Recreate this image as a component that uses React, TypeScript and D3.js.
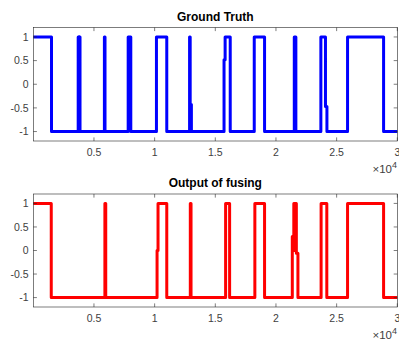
import React, { useEffect, useRef } from 'react';
import * as d3 from 'd3';

// change points: value holds from x until the next x
const truthX = [0, 1500, 3700, 3760, 3800, 3850, 5860, 5910, 7820, 8035, 10150, 11000, 12880, 12930, 13030, 15720, 15810, 16230, 18210, 19060, 21510, 21640, 23700, 24080, 24200, 25900, 28870, 30000];
const truthY = [1, -1, 1, -1, 1, -1, 1, -1, 1, -1, 1, -1, 1, -0.43, -1, 0.52, 1, -1, 1, -1, 1, -1, 1, -0.47, -1, 1, -1, -1];

const fusedX = [0, 1480, 5900, 5970, 10200, 10280, 11000, 12940, 13000, 15850, 16180, 18260, 19060, 21346, 21470, 21510, 21550, 21590, 21630, 21680, 21810, 23720, 24190, 25900, 28870, 30000];
const fusedY = [1, -1, 1, -1, 0, 1, -1, 1, -1, 1, -1, 1, -1, 0.3, 1, 0, 1, 0, 1, -0.06, -1, 1, -1, 1, -1, -1];

const xTicks = [5000, 10000, 15000, 20000, 25000, 30000];
const yTicks = [-1, -0.5, 0, 0.5, 1];

const panels = [
  { title: 'Ground Truth', xs: truthX, ys: truthY, color: '#0000ff', top: 27.5, bottom: 141 },
  { title: 'Output of fusing', xs: fusedX, ys: fusedY, color: '#ff0000', top: 194, bottom: 307 },
];

const App = () => {
  const svgRef = useRef<SVGSVGElement>(null);

  useEffect(() => {
    const svg = d3.select(svgRef.current);
    svg.selectAll('*').remove();

    const left = 33.3;
    const right = 397.3;
    const font = '"Liberation Sans", Arial, sans-serif';
    const axisColor = '#262626';

    panels.forEach(p => {
      const x = d3.scaleLinear().domain([0, 30000]).range([left, right]);
      const y = d3.scaleLinear().domain([-1.2, 1.2]).range([p.bottom, p.top]);
      const g = svg.append('g');

      // data line
      const pts = p.xs.map((v, i) => [v, p.ys[i]] as [number, number]);
      const line = d3.line<[number, number]>()
        .x(d => x(d[0]))
        .y(d => y(d[1]))
        .curve(d3.curveStepAfter);

      g.append('path')
        .datum(pts)
        .attr('fill', 'none')
        .attr('stroke', p.color)
        .attr('stroke-width', 3)
        .attr('stroke-linejoin', 'round')
        .attr('d', line);

      // box
      g.append('rect')
        .attr('x', left)
        .attr('y', p.top)
        .attr('width', right - left)
        .attr('height', p.bottom - p.top)
        .attr('fill', 'none')
        .attr('stroke', axisColor)
        .attr('stroke-width', 0.6);

      const tl = 3.6;
      // x ticks, inward on bottom and top
      xTicks.forEach(t => {
        const px = x(t);
        g.append('line').attr('x1', px).attr('x2', px).attr('y1', p.bottom).attr('y2', p.bottom - tl)
          .attr('stroke', axisColor).attr('stroke-width', 0.6);
        g.append('line').attr('x1', px).attr('x2', px).attr('y1', p.top).attr('y2', p.top + tl)
          .attr('stroke', axisColor).attr('stroke-width', 0.6);
        g.append('text')
          .attr('x', px)
          .attr('y', p.bottom + 15)
          .attr('text-anchor', 'middle')
          .style('font-family', font)
          .style('font-size', '10.5px')
          .style('fill', '#404040')
          .text(String(t / 10000));
      });

      yTicks.forEach(t => {
        const py = y(t);
        g.append('line').attr('x1', left).attr('x2', left + tl).attr('y1', py).attr('y2', py)
          .attr('stroke', axisColor).attr('stroke-width', 0.6);
        g.append('line').attr('x1', right).attr('x2', right - tl).attr('y1', py).attr('y2', py)
          .attr('stroke', axisColor).attr('stroke-width', 0.6);
        g.append('text')
          .attr('x', 28.5)
          .attr('y', py + 3.8)
          .attr('text-anchor', 'end')
          .style('font-family', font)
          .style('font-size', '10.5px')
          .style('fill', '#404040')
          .text(String(t));
      });

      // exponent label
      const ex = g.append('text')
        .attr('x', 397)
        .attr('y', p.bottom + 31.5)
        .attr('text-anchor', 'end')
        .style('font-family', font)
        .style('font-size', '11.5px')
        .style('fill', '#404040');
      ex.append('tspan').text('\u00d710');
      ex.append('tspan').attr('dy', -5).style('font-size', '9px').text('4');

      // title
      g.append('text')
        .attr('x', (left + right) / 2)
        .attr('y', p.top - 7)
        .attr('text-anchor', 'middle')
        .style('font-family', font)
        .style('font-size', '12px')
        .style('font-weight', 'bold')
        .style('fill', '#000')
        .text(p.title);
    });
  }, []);

  return (
    <div style={{ position: 'absolute', left: 0, top: 0 }}>
      <svg ref={svgRef} width={399} height={340} style={{ display: 'block', background: '#fff' }} />
    </div>
  );
};

export default App;
